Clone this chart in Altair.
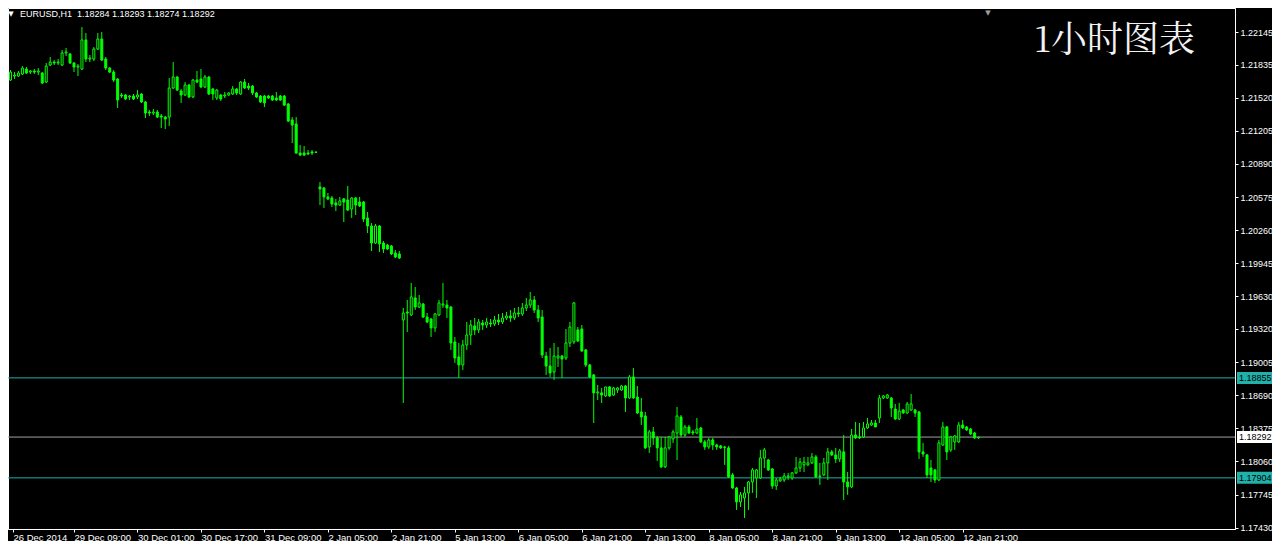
import json
import altair as alt
import pandas as pd

symbol = "EURUSD,H1"
chart_title = "1小时图表"

opens = [
    1.21688, 1.21726, 1.21726, 1.21745, 1.21793, 1.21764, 1.21774, 1.21764, 1.21755, 1.21669,
    1.21831, 1.21859, 1.21850, 1.21831, 1.21945, 1.21936, 1.21850, 1.21812, 1.21793, 1.22069,
    1.21888, 1.21888, 1.21983, 1.22078, 1.21888, 1.21802, 1.21764, 1.21698, 1.21546, 1.21546,
    1.21527, 1.21536, 1.21527, 1.21555, 1.21479, 1.21384, 1.21374, 1.21384, 1.21346, 1.21336,
    1.21336, 1.21612, 1.21717, 1.21584, 1.21546, 1.21641, 1.21527, 1.21688, 1.21698, 1.21622,
    1.21717, 1.21603, 1.21517, 1.21546, 1.21536, 1.21546, 1.21555, 1.21603, 1.21555, 1.21669,
    1.21631, 1.21631, 1.21565, 1.21536, 1.21536, 1.21536, 1.21536, 1.21517, 1.21536, 1.21536,
    1.21460, 1.21308, 1.21270, 1.20994, 1.20994, 1.20994, 1.21004, 1.21004, 1.20671, 1.20661,
    1.20576, 1.20566, 1.20519, 1.20499, 1.20557, 1.20547, 1.20461, 1.20566, 1.20528, 1.20528,
    1.20376, 1.20300, 1.20138, 1.20300, 1.20138, 1.20119, 1.20110, 1.20043, 1.20034, 1.19406,
    1.19482, 1.19453, 1.19615, 1.19529, 1.19558, 1.19434, 1.19415, 1.19330, 1.19453, 1.19548,
    1.19548, 1.19529, 1.19197, 1.19054, 1.18978, 1.19168, 1.19263, 1.19349, 1.19311, 1.19377,
    1.19358, 1.19377, 1.19368, 1.19406, 1.19387, 1.19425, 1.19444, 1.19425, 1.19472, 1.19463,
    1.19520, 1.19548, 1.19596, 1.19501, 1.19434, 1.19063, 1.18968, 1.18911, 1.19044, 1.19063,
    1.19044, 1.19187, 1.19197, 1.19311, 1.19320, 1.19121, 1.18978, 1.18883, 1.18712, 1.18712,
    1.18683, 1.18769, 1.18692, 1.18740, 1.18740, 1.18778, 1.18664, 1.18864, 1.18673, 1.18531,
    1.18493, 1.18198, 1.18341, 1.18284, 1.18189, 1.18008, 1.18189, 1.18274, 1.18331, 1.18483,
    1.18312, 1.18388, 1.18341, 1.18331, 1.18379, 1.18246, 1.18198, 1.18265, 1.18217, 1.18208,
    1.18198, 1.18189, 1.17932, 1.17808, 1.17675, 1.17713, 1.17761, 1.17865, 1.17903, 1.17903,
    1.18093, 1.18074, 1.17989, 1.17827, 1.17875, 1.17884, 1.17913, 1.17903, 1.17951, 1.17998,
    1.18027, 1.18027, 1.18046, 1.18103, 1.17922, 1.17932, 1.18046, 1.18151, 1.18122, 1.18084,
    1.18151, 1.17865, 1.17818, 1.18312, 1.18293, 1.18293, 1.18379, 1.18407, 1.18426, 1.18474,
    1.18664, 1.18664, 1.18664, 1.18559, 1.18464, 1.18550, 1.18521, 1.18550, 1.18550, 1.18531,
    1.18151, 1.18122, 1.17998, 1.17979, 1.17884, 1.18217, 1.18388, 1.18170, 1.18246, 1.18246,
    1.18407, 1.18388, 1.18369, 1.18331, 1.18284,
]
highs = [
    1.21783, 1.21764, 1.21774, 1.21821, 1.21812, 1.21783, 1.21793, 1.21802, 1.21764, 1.21850,
    1.21907, 1.21878, 1.21888, 1.21974, 1.21993, 1.21945, 1.21859, 1.21840, 1.22192, 1.22135,
    1.21926, 1.22002, 1.22135, 1.22145, 1.21907, 1.21812, 1.21783, 1.21707, 1.21565, 1.21555,
    1.21546, 1.21555, 1.21593, 1.21565, 1.21489, 1.21403, 1.21412, 1.21403, 1.21365, 1.21346,
    1.21707, 1.21859, 1.21726, 1.21603, 1.21669, 1.21650, 1.21698, 1.21774, 1.21793, 1.21736,
    1.21726, 1.21612, 1.21603, 1.21555, 1.21574, 1.21574, 1.21631, 1.21612, 1.21679, 1.21698,
    1.21660, 1.21641, 1.21574, 1.21546, 1.21546, 1.21546, 1.21546, 1.21574, 1.21546, 1.21546,
    1.21470, 1.21336, 1.21336, 1.21070, 1.21061, 1.21023, 1.21023, 1.21004, 1.20718, 1.20671,
    1.20614, 1.20585, 1.20557, 1.20576, 1.20566, 1.20680, 1.20576, 1.20576, 1.20576, 1.20538,
    1.20433, 1.20328, 1.20319, 1.20309, 1.20157, 1.20129, 1.20119, 1.20072, 1.20062, 1.19520,
    1.19596, 1.19758, 1.19720, 1.19644, 1.19568, 1.19472, 1.19425, 1.19472, 1.19596, 1.19758,
    1.19596, 1.19539, 1.19244, 1.19187, 1.19216, 1.19387, 1.19406, 1.19425, 1.19415, 1.19406,
    1.19425, 1.19415, 1.19444, 1.19463, 1.19472, 1.19482, 1.19501, 1.19520, 1.19529, 1.19568,
    1.19615, 1.19672, 1.19634, 1.19548, 1.19501, 1.19102, 1.19140, 1.19187, 1.19149, 1.19073,
    1.19320, 1.19387, 1.19577, 1.19339, 1.19358, 1.19130, 1.18987, 1.18892, 1.18788, 1.18759,
    1.18769, 1.18778, 1.18769, 1.18769, 1.18788, 1.18788, 1.18883, 1.18949, 1.18778, 1.18664,
    1.18531, 1.18360, 1.18388, 1.18303, 1.18293, 1.18293, 1.18303, 1.18360, 1.18578, 1.18502,
    1.18407, 1.18407, 1.18360, 1.18474, 1.18388, 1.18265, 1.18284, 1.18284, 1.18227, 1.18217,
    1.18208, 1.18208, 1.17951, 1.17818, 1.17770, 1.17818, 1.17875, 1.17998, 1.17989, 1.18170,
    1.18189, 1.18084, 1.17998, 1.17903, 1.17913, 1.17951, 1.17951, 1.17960, 1.18103, 1.18093,
    1.18103, 1.18103, 1.18141, 1.18122, 1.18046, 1.18093, 1.18189, 1.18170, 1.18189, 1.18179,
    1.18312, 1.17960, 1.18369, 1.18436, 1.18426, 1.18436, 1.18474, 1.18455, 1.18455, 1.18692,
    1.18692, 1.18702, 1.18673, 1.18607, 1.18616, 1.18559, 1.18626, 1.18702, 1.18559, 1.18540,
    1.18236, 1.18131, 1.18074, 1.17989, 1.18265, 1.18436, 1.18398, 1.18303, 1.18312, 1.18436,
    1.18455, 1.18398, 1.18379, 1.18341, 1.18293,
]
lows = [
    1.21679, 1.21698, 1.21717, 1.21736, 1.21745, 1.21745, 1.21745, 1.21736, 1.21650, 1.21660,
    1.21821, 1.21831, 1.21831, 1.21821, 1.21916, 1.21840, 1.21764, 1.21726, 1.21783, 1.21859,
    1.21859, 1.21869, 1.21974, 1.21869, 1.21783, 1.21755, 1.21669, 1.21422, 1.21517, 1.21498,
    1.21498, 1.21498, 1.21508, 1.21470, 1.21327, 1.21346, 1.21355, 1.21327, 1.21232, 1.21222,
    1.21251, 1.21603, 1.21584, 1.21470, 1.21536, 1.21517, 1.21517, 1.21660, 1.21612, 1.21612,
    1.21546, 1.21498, 1.21498, 1.21489, 1.21517, 1.21536, 1.21546, 1.21546, 1.21546, 1.21603,
    1.21593, 1.21546, 1.21517, 1.21470, 1.21431, 1.21508, 1.21489, 1.21489, 1.21489, 1.21441,
    1.21289, 1.21089, 1.20985, 1.20965, 1.20965, 1.20975, 1.20975, 1.20994, 1.20499, 1.20471,
    1.20547, 1.20480, 1.20442, 1.20490, 1.20338, 1.20442, 1.20376, 1.20404, 1.20480, 1.20338,
    1.20233, 1.20062, 1.20129, 1.20053, 1.20043, 1.20072, 1.20024, 1.19995, 1.19986, 1.18616,
    1.19292, 1.19444, 1.19501, 1.19520, 1.19425, 1.19377, 1.19244, 1.19292, 1.19444, 1.19520,
    1.19425, 1.19121, 1.18997, 1.18854, 1.18930, 1.19121, 1.19168, 1.19263, 1.19282, 1.19311,
    1.19330, 1.19339, 1.19349, 1.19358, 1.19368, 1.19406, 1.19387, 1.19406, 1.19434, 1.19444,
    1.19491, 1.19520, 1.19472, 1.19387, 1.19044, 1.18883, 1.18864, 1.18835, 1.18959, 1.18854,
    1.19025, 1.19149, 1.19178, 1.19197, 1.19102, 1.18959, 1.18854, 1.18426, 1.18645, 1.18616,
    1.18673, 1.18673, 1.18683, 1.18712, 1.18731, 1.18531, 1.18655, 1.18655, 1.18512, 1.18407,
    1.18179, 1.18141, 1.18217, 1.18065, 1.17998, 1.17998, 1.18170, 1.18236, 1.18074, 1.18293,
    1.18293, 1.18322, 1.18312, 1.18322, 1.18236, 1.18170, 1.18179, 1.18170, 1.18170, 1.18179,
    1.18027, 1.17903, 1.17799, 1.17599, 1.17627, 1.17523, 1.17599, 1.17761, 1.17713, 1.17894,
    1.17998, 1.17970, 1.17799, 1.17789, 1.17865, 1.17865, 1.17884, 1.17884, 1.17941, 1.17960,
    1.17960, 1.18017, 1.18036, 1.17903, 1.17837, 1.17922, 1.17884, 1.18112, 1.18046, 1.18055,
    1.17694, 1.17742, 1.17808, 1.18274, 1.18274, 1.18284, 1.18369, 1.18398, 1.18388, 1.18426,
    1.18655, 1.18655, 1.18483, 1.18455, 1.18455, 1.18515, 1.18512, 1.18540, 1.18483, 1.18084,
    1.18103, 1.17903, 1.17865, 1.17856, 1.17875, 1.18208, 1.18074, 1.18151, 1.18170, 1.18236,
    1.18369, 1.18350, 1.18312, 1.18274, 1.18274,
]
closes = [
    1.21764, 1.21736, 1.21755, 1.21802, 1.21755, 1.21774, 1.21764, 1.21774, 1.21660, 1.21821,
    1.21859, 1.21850, 1.21859, 1.21945, 1.21955, 1.21850, 1.21812, 1.21821, 1.22069, 1.21888,
    1.21897, 1.21983, 1.22078, 1.21878, 1.21802, 1.21764, 1.21688, 1.21498, 1.21536, 1.21508,
    1.21536, 1.21508, 1.21546, 1.21479, 1.21374, 1.21374, 1.21384, 1.21336, 1.21336, 1.21317,
    1.21612, 1.21717, 1.21593, 1.21546, 1.21641, 1.21527, 1.21688, 1.21669, 1.21622, 1.21717,
    1.21555, 1.21555, 1.21593, 1.21508, 1.21546, 1.21565, 1.21603, 1.21565, 1.21669, 1.21612,
    1.21612, 1.21565, 1.21527, 1.21479, 1.21470, 1.21517, 1.21498, 1.21498, 1.21498, 1.21450,
    1.21298, 1.21260, 1.20994, 1.20975, 1.20975, 1.20985, 1.20994, 1.21000, 1.20652, 1.20576,
    1.20557, 1.20509, 1.20499, 1.20538, 1.20528, 1.20452, 1.20566, 1.20499, 1.20490, 1.20366,
    1.20300, 1.20138, 1.20300, 1.20129, 1.20081, 1.20081, 1.20034, 1.20005, 1.19995, 1.19472,
    1.19472, 1.19625, 1.19529, 1.19568, 1.19434, 1.19387, 1.19330, 1.19463, 1.19568, 1.19558,
    1.19520, 1.19187, 1.19044, 1.18978, 1.19168, 1.19263, 1.19358, 1.19311, 1.19387, 1.19358,
    1.19387, 1.19368, 1.19406, 1.19387, 1.19425, 1.19444, 1.19425, 1.19472, 1.19463, 1.19520,
    1.19548, 1.19596, 1.19501, 1.19425, 1.19073, 1.18968, 1.18902, 1.19063, 1.19063, 1.19035,
    1.19187, 1.19339, 1.19568, 1.19206, 1.19111, 1.18978, 1.18864, 1.18712, 1.18721, 1.18692,
    1.18769, 1.18683, 1.18759, 1.18759, 1.18778, 1.18664, 1.18864, 1.18664, 1.18521, 1.18483,
    1.18189, 1.18341, 1.18284, 1.18189, 1.18008, 1.18189, 1.18293, 1.18341, 1.18493, 1.18312,
    1.18388, 1.18331, 1.18331, 1.18369, 1.18246, 1.18198, 1.18265, 1.18217, 1.18198, 1.18189,
    1.18194, 1.17913, 1.17808, 1.17675, 1.17742, 1.17761, 1.17865, 1.17979, 1.17979, 1.18093,
    1.18170, 1.17979, 1.17827, 1.17884, 1.17894, 1.17922, 1.17922, 1.17951, 1.17998, 1.18055,
    1.18055, 1.18046, 1.18103, 1.17913, 1.17918, 1.18046, 1.18151, 1.18122, 1.18084, 1.18160,
    1.17865, 1.17818, 1.18312, 1.18284, 1.18284, 1.18379, 1.18417, 1.18426, 1.18388, 1.18664,
    1.18683, 1.18692, 1.18569, 1.18464, 1.18540, 1.18521, 1.18607, 1.18607, 1.18521, 1.18151,
    1.18131, 1.17932, 1.17932, 1.17884, 1.18236, 1.18388, 1.18151, 1.18293, 1.18303, 1.18407,
    1.18379, 1.18360, 1.18322, 1.18284, 1.18292,
]

x_tick_bars = [0, 16, 32, 48, 64, 80, 96, 112, 128, 144, 160, 176, 192, 208, 224, 240]
x_tick_labels = [
    "26 Dec 2014", "29 Dec 09:00", "30 Dec 01:00", "30 Dec 17:00", "31 Dec 09:00",
    "2 Jan 05:00", "2 Jan 21:00", "5 Jan 13:00", "6 Jan 05:00", "6 Jan 21:00",
    "7 Jan 13:00", "8 Jan 05:00", "8 Jan 21:00", "9 Jan 13:00", "12 Jan 05:00", "12 Jan 21:00",
]
y_tick_values = [
    1.22145, 1.21835, 1.21520, 1.21205, 1.20890, 1.20575, 1.20260, 1.19945,
    1.19630, 1.19320, 1.19005, 1.18690, 1.18375, 1.18060, 1.17745, 1.17430,
]
level_prices = [1.18855, 1.17904]
bid_price = closes[-1]

# ---- style ----
GREEN = "#00FF00"
CYAN_LINE = "#20B2AA"
CYAN_BOX = "#20B2AA"
BID_LINE = "#A0A0A0"
FONT = "Liberation Sans"
W, H = 1227, 521
X_DOMAIN = [0.625, 307.375]
Y_DOMAIN = [1.174176, 1.223733]

df = pd.DataFrame({"i": list(range(len(opens))), "o": opens, "h": highs, "l": lows, "c": closes})

xs = alt.Scale(domain=X_DOMAIN, nice=False, zero=False)
ys = alt.Scale(domain=Y_DOMAIN, nice=False, zero=False)

tick_pos = [max(b, X_DOMAIN[0]) for b in x_tick_bars]
x_axis = alt.Axis(
    values=tick_pos,
    labelExpr=f"{json.dumps(x_tick_labels)}[indexof({json.dumps(tick_pos)}, datum.value)]",
    orient="bottom", labelAlign="left", labelBaseline="top", labelPadding=0,
    tickSize=3, tickColor="white", domainColor="white", labelColor="white",
    labelFont=FONT, labelFontSize=9.5, grid=False, title=None,
    labelOverlap=False, labelBound=False, labelFlush=False,
)
y_axis = alt.Axis(
    values=y_tick_values, orient="right",
    labelExpr="format(datum.value, '.5f')",
    tickSize=3, labelPadding=2, tickColor="white", domainColor="white",
    labelColor="white", labelFont=FONT, labelFontSize=9, grid=False, title=None,
    labelOverlap=False, labelBound=False, labelFlush=False,
)

def X():
    return alt.X("i:Q", scale=xs, axis=x_axis)

def Y(field):
    return alt.Y(f"{field}:Q", scale=ys, axis=y_axis)

levels_df = pd.DataFrame({
    "p": level_prices + [bid_price],
    "kind": ["level"] * len(level_prices) + ["bid"],
})

level_rules = alt.Chart(levels_df).mark_rule(strokeWidth=1).encode(
    y=Y("p"),
    color=alt.Color("kind:N", scale=alt.Scale(domain=["level", "bid"], range=[CYAN_LINE, BID_LINE]), legend=None),
)

wicks = alt.Chart(df).mark_rule(color=GREEN, strokeWidth=1, clip=True).encode(
    x=X(), y=Y("l"), y2="h:Q"
)

bodies = alt.Chart(df).transform_calculate(
    fillc=f"datum.c >= datum.o ? '#000000' : '{GREEN}'"
).mark_bar(size=2, stroke=GREEN, strokeWidth=1, clip=True).encode(
    x=X(), y=Y("o"), y2="c:Q", fill=alt.Fill("fillc:N", scale=None)
)

boxes = alt.Chart(levels_df).mark_rect(yOffset=-6, y2Offset=6).encode(
    x=alt.value(W + 2), x2=alt.value(W + 37),
    y=Y("p"), y2="p:Q",
    fill=alt.Fill("kind:N", scale=alt.Scale(domain=["level", "bid"], range=[CYAN_BOX, "#FFFFFF"]), legend=None),
)
box_text = alt.Chart(levels_df).mark_text(
    align="left", baseline="middle", font=FONT, fontSize=9, color="black"
).encode(
    x=alt.value(W + 4), y=Y("p"), text=alt.Text("p:Q", format=".5f")
)

header_txt = f"{symbol}\u00a0\u00a0{opens[-1]:.5f} {highs[-1]:.5f} {lows[-1]:.5f} {closes[-1]:.5f}"
one = alt.Data(values=[{}])
header = alt.Chart(one).mark_text(
    text=header_txt, align="left", baseline="middle", font=FONT, fontSize=9, color="white"
).encode(x=alt.value(12), y=alt.value(6))
tri = alt.Chart(one).mark_text(
    text="▼", align="center", baseline="middle", font="DejaVu Sans", fontSize=7, color="white"
).encode(x=alt.value(3), y=alt.value(6))
shift_mark = alt.Chart(one).mark_text(
    text="▼", align="center", baseline="top", font="DejaVu Sans", fontSize=7, color="#A0A0A0"
).encode(x=alt.value(980), y=alt.value(1))
title = alt.Chart(one).mark_text(
    text=chart_title, align="right", baseline="middle",
    font="Noto Serif CJK SC, Noto Sans CJK SC", fontSize=36, color="#F2F2F2",
).encode(x=alt.value(1187), y=alt.value(33))

chart = alt.layer(
    level_rules, wicks, bodies, boxes, box_text, header, tri, shift_mark, title
).properties(
    width=W, height=H,
    autosize=alt.AutoSizeParams(type="none"),
    padding={"left": 0, "top": 0, "right": 37, "bottom": 12},
).configure(background="black").configure_view(stroke="white", strokeWidth=1, fill="black")

chart.save("out.html", embed_options={"renderer": "svg", "actions": False})
